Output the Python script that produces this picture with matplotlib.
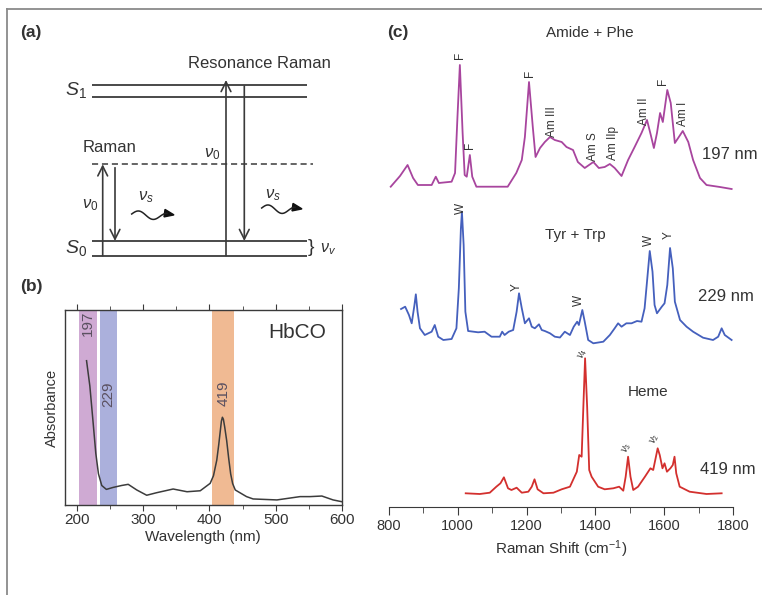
import numpy as np
import matplotlib
matplotlib.use('Agg')
import matplotlib.pyplot as plt
from matplotlib.patches import Polygon
from matplotlib.ticker import MultipleLocator

plt.rcParams['font.family'] = ['Liberation Sans', 'DejaVu Sans']
plt.rcParams['mathtext.fontset'] = 'custom'
plt.rcParams['mathtext.rm'] = 'Liberation Sans'
plt.rcParams['mathtext.it'] = 'Liberation Sans:italic'
plt.rcParams['mathtext.bf'] = 'Liberation Sans:bold'

# ---------------- data ----------------
# (b) UV-vis absorbance of HbCO
uv_wavelength = [214, 219, 224, 228, 232, 237, 244, 254, 267, 277, 290, 305, 320, 345,
                 366, 386, 401, 406, 411, 414, 416, 418, 419.5, 421, 423, 426, 429, 432,
                 435, 439, 456, 466, 502, 537, 552, 570, 587, 600]
uv_absorbance = [0.74, 0.61, 0.42, 0.265, 0.16, 0.10, 0.08, 0.09, 0.10, 0.106, 0.077, 0.05,
                 0.063, 0.082, 0.068, 0.073, 0.111, 0.15, 0.23, 0.31, 0.37, 0.43, 0.45, 0.44,
                 0.40, 0.33, 0.24, 0.16, 0.11, 0.077, 0.043, 0.031, 0.026, 0.043, 0.043,
                 0.046, 0.026, 0.017]
band_labels = ['197', '229', '419']
band_starts = [202.6, 234, 404]
band_ends = [229.8, 260, 437.5]
band_colors = ['#cfaad3', '#abb0dc', '#f0ba93']

# (c) UV resonance Raman spectra
shift_197 = [805, 832, 854, 870, 884, 924, 936, 945, 982, 992, 999, 1006, 1014, 1020, 1026,
             1035, 1042, 1054, 1078, 1145, 1170, 1186, 1195, 1207, 1218, 1226, 1239, 1253,
             1268, 1282, 1302, 1316, 1335, 1349, 1369, 1394, 1410, 1427, 1442, 1456, 1476,
             1495, 1514, 1534, 1550, 1561, 1570, 1579, 1588, 1596, 1609, 1619, 1631, 1654,
             1670, 1684, 1704, 1723, 1762, 1796]
int_197 = [3.3, 14, 25, 12, 5, 5, 13.3, 7, 8.3, 17, 73, 125, 57, 15, 13.3, 35, 13.3, 3.3,
           3.3, 3.3, 17, 30, 53, 108, 63, 33, 42, 48, 53, 50, 48, 43, 40, 28, 22, 28, 22, 23,
           26, 22, 14, 30, 43, 57, 70, 55, 42, 57, 77, 68, 100, 87, 47, 59, 48, 30, 12, 5, 3, 1]

shift_229 = [835, 847, 858, 866, 874, 878, 883, 890, 904, 924, 933, 943, 958, 982, 996, 1003,
             1009, 1012, 1017, 1022, 1030, 1059, 1078, 1098, 1122, 1129, 1136, 1148, 1161,
             1171, 1178, 1186, 1195, 1207, 1215, 1224, 1236, 1244, 1253, 1268, 1282, 1297,
             1311, 1326, 1337, 1347, 1352, 1362, 1369, 1379, 1394, 1423, 1442, 1456, 1466,
             1476, 1490, 1505, 1521, 1534, 1543, 1550, 1558, 1566, 1572, 1579, 1593, 1601,
             1609, 1617, 1625, 1631, 1646, 1665, 1684, 1713, 1742, 1757, 1767, 1776, 1796]
int_229 = [36, 38.3, 30, 21.7, 40, 50.7, 33.3, 16.7, 10, 13.3, 20, 8.3, 5, 6, 16.7, 56.7,
           116.7, 133.3, 100, 33.3, 14, 12.7, 13.3, 8.3, 8.3, 13.3, 10, 13.3, 15, 33.3, 51.7,
           36.7, 21.7, 26.7, 18.3, 16.7, 20.7, 15, 14, 11.7, 8.3, 7.5, 13.3, 10, 18.3, 23.3,
           20, 35, 23.3, 5, 1.7, 3.3, 10, 16.7, 21.7, 18.3, 21.7, 21.7, 24, 23.3, 36.7, 63.3,
           94, 73.3, 40, 31.7, 38.3, 41.7, 60, 97, 76.7, 43.3, 25, 18.3, 13.3, 7.3, 5, 8.3,
           16.7, 10, 5]

shift_419 = [1023, 1064, 1093, 1112, 1124, 1134, 1146, 1156, 1171, 1186, 1205, 1215, 1223,
             1232, 1249, 1278, 1302, 1326, 1346, 1353, 1360, 1365, 1370, 1376, 1382, 1389,
             1408, 1427, 1452, 1469, 1481, 1488, 1495, 1502, 1510, 1524, 1544, 1560, 1568,
             1576, 1581, 1587, 1595, 1601, 1608, 1618, 1625, 1630, 1635, 1645, 1674, 1723, 1767]
int_419 = [3.7, 3, 4.3, 10.3, 13.7, 19.7, 8.7, 7, 9.3, 4.3, 5.3, 10.3, 17.7, 7.7, 3.7, 4.3,
           7.7, 10.3, 25.3, 42, 40.3, 90.3, 138.7, 90.3, 27, 20.3, 10.3, 7.7, 8.7, 10.3, 6.3,
           20.3, 40.3, 20.3, 7, 10.3, 20.3, 28.7, 27, 40.3, 48.7, 42, 28.7, 33.7, 25.3, 28.7,
           32, 40.3, 23.7, 10.3, 5.3, 3, 3.7]

spectra_labels = ['197 nm', '229 nm', '419 nm']
spectra_titles = ['Amide + Phe', 'Tyr + Trp', 'Heme']

# ---------------- style / layout ----------------
TXT = '#333333'
LINE = '#3a3a3a'
W, H = 762, 595
fig = plt.figure(figsize=(W / 100, H / 100), dpi=100)

# overlay in pixel coordinates for panel (a) and frame
ov = fig.add_axes([0, 0, 1, 1])
ov.set_xlim(0, W)
ov.set_ylim(H, 0)
ov.axis('off')

ov.plot([7, 7], [8.5, H], color='#8a8a8a', lw=1.3)
ov.plot([7, W], [8.5, 8.5], color='#8a8a8a', lw=1.3)

ov.text(20, 33, '(a)', fontsize=12.5, fontweight='bold', color=TXT, va='center')
ov.text(20, 287, '(b)', fontsize=12.5, fontweight='bold', color=TXT, va='center')
ov.text(387, 32, '(c)', fontsize=12.5, fontweight='bold', color=TXT, va='center')

# Jablonski-type diagram
level_x = (91.7, 306.7)
s1_y = [85, 96.7]
s0_y = [241, 255.7]
virtual_y = 164.3
for y in s1_y + s0_y:
    ov.plot(level_x, [y, y], color=LINE, lw=1.3, solid_capstyle='butt')
ov.plot([91.7, 313.3], [virtual_y, virtual_y], color=LINE, lw=1.1, ls=(0, (4, 2.5)))

def arrow(x, y0, y1):
    ov.annotate('', xy=(x, y1), xytext=(x, y0),
                arrowprops=dict(arrowstyle='->,head_length=0.7,head_width=0.35',
                                lw=1.2, color=LINE, shrinkA=0, shrinkB=0))

arrow(102.7, 255.7, 164.3)
arrow(115, 167.7, 241)
arrow(226, 255.7, 80)
arrow(244.3, 86, 241)

def wavy(x0, x1, yc):
    xs = np.linspace(x0, x1 - 7, 80)
    t = (xs - x0) / (x1 - 7 - x0)
    ys = yc - 3.6 * np.sin(t * 2 * np.pi * 1.25) + 3 * t
    ov.plot(xs, ys, color='#222222', lw=1.1)
    ov.add_patch(Polygon([[x1 - 9, ys[-1] - 4], [x1, ys[-1] + 1.5], [x1 - 10, ys[-1] + 3.5]],
                         closed=True, color='#111111'))

wavy(131.7, 174, 214)
wavy(261.7, 302, 208)

ov.text(65, 90, r'$S_1$', fontsize=14, color=TXT, va='center')
ov.text(65, 248, r'$S_0$', fontsize=14, color=TXT, va='center')
ov.text(83, 147, 'Raman', fontsize=12, color=TXT, va='center')
ov.text(188, 63, 'Resonance Raman', fontsize=12, color=TXT, va='center')
ov.text(82, 205, r'$\nu_0$', fontsize=12, color=TXT, va='center')
ov.text(204, 154, r'$\nu_0$', fontsize=12, color=TXT, va='center')
ov.text(138, 197, r'$\nu_s$', fontsize=12, color=TXT, va='center')
ov.text(265, 195, r'$\nu_s$', fontsize=12, color=TXT, va='center')
ov.text(308, 248, '}', fontsize=14, color=TXT, va='center')
ov.text(320, 249, r'$\nu_v$', fontsize=11.5, color=TXT, va='center')

# ---------------- panel (b) ----------------
axb = fig.add_axes([65 / W, (H - 505) / H, (341.7 - 65) / W, 195 / H])
axb.patch.set_alpha(0)
for s, e, c in zip(band_starts, band_ends, band_colors):
    axb.axvspan(s, e, color=c, lw=0, zorder=0)
axb.plot(uv_wavelength, uv_absorbance, color='#3c3c3c', lw=1.1, zorder=3)
axb.set_xlim(181.4, 600)
axb.set_ylim(0, 1)
band_text_y = [0.93, 0.57, 0.575]
for lab, s, e, ty in zip(band_labels, band_starts, band_ends, band_text_y):
    axb.text((s + e) / 2, ty, lab, rotation=90, fontsize=11, color='#5a5060',
             ha='center', va='center', zorder=4)
axb.text(0.84, 0.885, 'HbCO', fontsize=15, color=TXT, ha='center', va='center',
         transform=axb.transAxes)
axb.xaxis.set_major_locator(MultipleLocator(100))
axb.xaxis.set_minor_locator(MultipleLocator(50))
axb.set_yticks([])
axb.tick_params(axis='x', which='both', direction='out', bottom=True, top=True,
                labelsize=11, labelcolor=TXT, color=LINE, pad=2)
axb.tick_params(axis='x', which='major', length=4)
axb.tick_params(axis='x', which='minor', length=3)
for sp in axb.spines.values():
    sp.set_color(LINE)
    sp.set_linewidth(1.0)
axb.set_xlabel('Wavelength (nm)', fontsize=11, color=TXT, labelpad=2)
axb.set_ylabel('Absorbance', fontsize=10.5, color=TXT, labelpad=4)

# ---------------- panel (c) ----------------
axc = fig.add_axes([389 / W, (H - 506.7) / H, 344 / W, 506.7 / H])
axc.patch.set_alpha(0)
offsets = [316.7, 161.7, 9.7]
colors = ['#a8459e', '#4560bd', '#d3302e']
series = [(shift_197, int_197), (shift_229, int_229), (shift_419, int_419)]
for (sx, iy), off, c in zip(series, offsets, colors):
    axc.plot(sx, np.array(iy) + off, color=c, lw=1.3, solid_joinstyle='round')
axc.set_xlim(800, 1800)
axc.set_ylim(0, 506.7)
axc.set_yticks([])
for side in ('left', 'right', 'top'):
    axc.spines[side].set_visible(False)
axc.spines['bottom'].set_color(LINE)
axc.xaxis.set_major_locator(MultipleLocator(200))
axc.xaxis.set_minor_locator(MultipleLocator(100))
axc.tick_params(axis='x', which='both', direction='out', labelsize=10.5, labelcolor=TXT,
                color=LINE, pad=3)
axc.tick_params(axis='x', which='major', length=6)
axc.tick_params(axis='x', which='minor', length=4)
axc.set_xlabel('Raman Shift (cm$^{-1}$)', fontsize=11, color=TXT, labelpad=4)

# headers and excitation labels
title_pos = [(1385, 473.7), (1343, 271.7), (1552, 115)]
nm_pos = [(1710, 352.7), (1699, 210), (1704, 36.7)]
for t, (x, y) in zip(spectra_titles, title_pos):
    axc.text(x, y, t, fontsize=11, color=TXT, ha='center', va='center')
for t, (x, y) in zip(spectra_labels, nm_pos):
    axc.text(x, y, t, fontsize=12, color=TXT, ha='left', va='center', clip_on=False)

# band assignments
peak_labels = [('F', 1006, 451.7), ('F', 1035, 361.7), ('F', 1210, 433), ('Am III', 1273, 385),
               ('Am S', 1393, 359.7), ('Am IIp', 1451, 363.7), ('Am II', 1540, 395),
               ('F', 1597, 425), ('Am I', 1655, 393),
               ('W', 1009, 298.4), ('Y', 1171, 220), ('W', 1353, 206.7), ('W', 1557, 266.7),
               ('Y', 1612, 271.7)]
for t, x, y in peak_labels:
    axc.text(x, y, t, rotation=90, fontsize=8.5, color=TXT, ha='center', va='center')
nu_labels = [(r'$\nu_4$', 1365, 153.4), (r'$\nu_3$', 1492, 58.4), (r'$\nu_2$', 1573, 67.4)]
for t, x, y in nu_labels:
    axc.text(x, y, t, rotation=65, fontsize=7, color=TXT, ha='center', va='center')

fig.savefig('out.png', dpi=100)
